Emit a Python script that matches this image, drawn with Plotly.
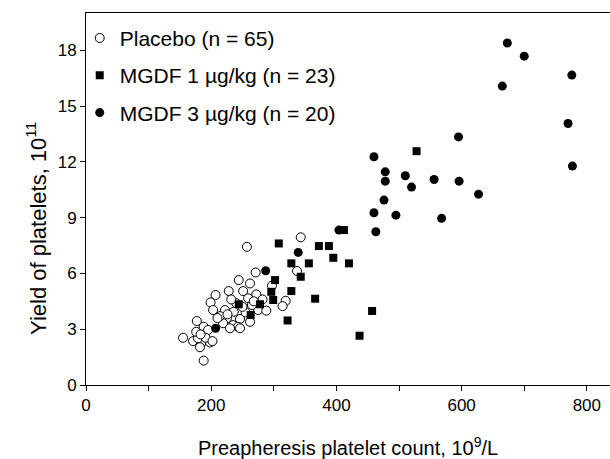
import plotly.graph_objects as go

# Placebo (open circles)
placebo_x = [257, 343, 271, 337, 244, 262, 228, 251, 272, 207, 297, 319, 314, 199, 259,
             222, 236, 203, 275, 225, 246, 177, 188, 195, 219, 235, 243, 230, 246, 155,
             171, 184, 198, 179, 191, 202, 182, 188, 176, 183, 240, 265, 282, 255, 214,
             232, 262, 288, 250, 210, 226, 268]
placebo_y = [7.43, 7.94, 6.05, 6.13, 5.64, 5.46, 5.05, 5.05, 4.87, 4.84, 5.34, 4.53, 4.24, 4.44, 4.66,
             4.03, 3.94, 4.03, 4.03, 3.58, 3.55, 3.44, 3.13, 2.96, 3.32, 3.22, 3.13, 3.05, 3.05, 2.54,
             2.36, 2.24, 2.29, 2.51, 2.54, 2.36, 2.03, 1.31, 2.86, 2.72, 4.40, 4.30, 4.60, 3.90, 3.70,
             4.60, 3.40, 4.00, 4.20, 3.60, 3.80, 4.50]

# MGDF 1 ug/kg (filled squares)
mgdf1_x = [528, 412, 308, 372, 388, 395, 328, 356, 420, 343, 302, 296, 299, 328, 366,
           278, 244, 263, 322, 457, 437]
mgdf1_y = [12.57, 8.33, 7.61, 7.47, 7.47, 6.84, 6.54, 6.54, 6.54, 5.82, 5.64, 5.01, 4.57, 5.05, 4.64,
           4.34, 4.34, 3.76, 3.47, 3.98, 2.65]

# MGDF 3 ug/kg (filled circles)
mgdf3_x = [673, 700, 776, 665, 770, 595, 777, 460, 478, 478, 510, 520, 556, 596, 627,
           476, 460, 495, 568, 463, 404, 339, 287, 207]
mgdf3_y = [18.39, 17.68, 16.66, 16.07, 14.06, 13.34, 11.77, 12.27, 11.46, 10.96, 11.25, 10.64, 11.05, 10.96, 10.26,
           9.94, 9.26, 9.13, 8.96, 8.24, 8.33, 7.13, 6.14, 3.05]

x_tickvals = [0, 200, 400, 600, 800]
x_minor_tickvals = [100, 300, 500, 700]
y_tickvals = [0, 3, 6, 9, 12, 15, 18]

FONT = "Arial, Liberation Sans, sans-serif"

fig = go.Figure()
fig.add_trace(go.Scatter(
    x=placebo_x, y=placebo_y, mode="markers", name="Placebo (n = 65)", legendgroup="a",
    marker=dict(symbol="circle", size=9, color="white", line=dict(color="black", width=1))))
fig.add_trace(go.Scatter(
    x=mgdf1_x, y=mgdf1_y, mode="markers", name="MGDF 1 µg/kg (n = 23)", legendgroup="b",
    marker=dict(symbol="square", size=8, color="black", line=dict(width=0))))
fig.add_trace(go.Scatter(
    x=mgdf3_x, y=mgdf3_y, mode="markers", name="MGDF 3 µg/kg (n = 20)", legendgroup="c",
    marker=dict(symbol="circle", size=9, color="black", line=dict(width=0))))

fig.update_layout(
    width=610, height=459,
    margin=dict(l=86, r=0, t=13, b=74),
    paper_bgcolor="white", plot_bgcolor="white",
    font=dict(family=FONT, color="black", size=17),
    showlegend=True,
    legend=dict(x=-0.012, y=0.987, xanchor="left", yanchor="top",
                font=dict(size=21, family=FONT), tracegroupgap=7,
                bgcolor="rgba(0,0,0,0)", itemsizing="trace"),
    xaxis=dict(range=[0, 837], tickvals=x_tickvals, automargin=False,
               ticks="outside", ticklen=5, tickwidth=1, tickcolor="black",
               minor=dict(tickvals=x_minor_tickvals, ticks="outside", ticklen=5,
                          tickwidth=1, tickcolor="black", showgrid=False),
               showline=True, linecolor="black", linewidth=1, mirror=True,
               showgrid=False, zeroline=False, tickfont=dict(size=17),
               title=dict(text="Preapheresis platelet count, 10<sup>9</sup>/L",
                          font=dict(size=20), standoff=27)),
    yaxis=dict(range=[0, 20], tickvals=y_tickvals, automargin=False,
               ticks="outside", ticklen=5, tickwidth=1, tickcolor="black",
               showline=True, linecolor="black", linewidth=1, mirror=False,
               showgrid=False, zeroline=False, tickfont=dict(size=17)),
    annotations=[dict(text="Yield of platelets, 10<sup>11</sup>", textangle=-90,
                      xref="paper", yref="paper", x=-0.095, y=0.42,
                      xanchor="center", yanchor="middle", showarrow=False,
                      font=dict(size=22, family=FONT))],
)

fig.write_html("out.html", config={"displayModeBar": False},
               post_script="document.body.style.margin='0';")
